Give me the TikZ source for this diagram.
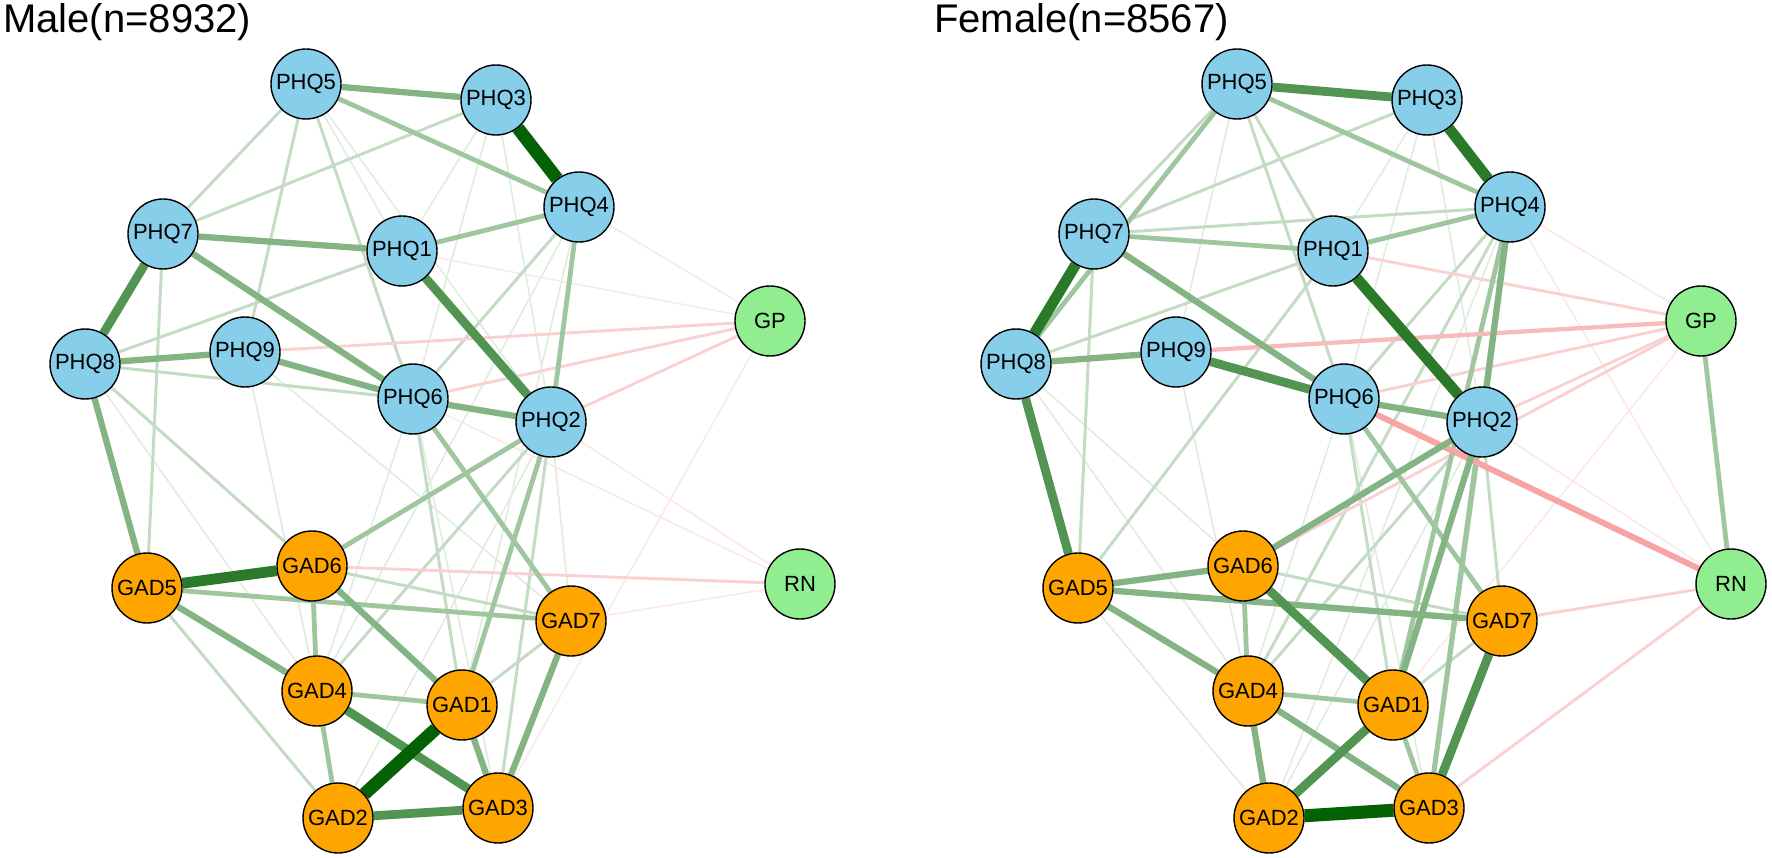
\documentclass[tikz,border=0pt]{standalone}
\usepackage{fontspec}
\setmainfont{Liberation Sans}
\usetikzlibrary{backgrounds}
\definecolor{nodeblue}{HTML}{87CEEB}
\definecolor{nodeorange}{HTML}{FFA500}
\definecolor{nodegreen}{HTML}{90EE90}
\definecolor{cg1}{RGB}{224,236,224}
\definecolor{cg2}{RGB}{196,220,196}
\definecolor{cg3}{RGB}{160,198,160}
\definecolor{cg4}{RGB}{132,180,132}
\definecolor{cg5}{RGB}{82,148,82}
\definecolor{cg6}{RGB}{42,122,42}
\definecolor{cg7}{RGB}{4,98,4}
\definecolor{cr1}{RGB}{252,232,232}
\definecolor{cr2}{RGB}{250,208,208}
\definecolor{cr3}{RGB}{248,186,186}
\definecolor{cr4}{RGB}{246,164,164}
\tikzset{
  nd/.style={circle, draw=black, line width=1.4pt, minimum size=70pt, inner sep=0pt,
             font=\fontsize{22}{22}\selectfont},
  bnode/.style={nd, fill=nodeblue},
  onode/.style={nd, fill=nodeorange},
  gnode/.style={nd, fill=nodegreen},
  G1/.style={cg1, line width=1.6pt},
  G2/.style={cg2, line width=3pt},
  G3/.style={cg3, line width=4.8pt},
  G4/.style={cg4, line width=6.3pt},
  G5/.style={cg5, line width=8.8pt},
  G6/.style={cg6, line width=10.8pt},
  G7/.style={cg7, line width=13pt},
  R1/.style={cr1, line width=1.6pt},
  R2/.style={cr2, line width=2.8pt},
  R3/.style={cr3, line width=4.3pt},
  R4/.style={cr4, line width=6pt},
  ttl/.style={anchor=base west, inner sep=0pt, font=\fontsize{40}{40}\selectfont}
}
\newcommand\mknodes[1]{%
  \node[bnode] (#1PHQ5) at (306,84) {PHQ5};
  \node[bnode] (#1PHQ3) at (496,100) {PHQ3};
  \node[bnode] (#1PHQ4) at (579,207) {PHQ4};
  \node[bnode] (#1PHQ7) at (163,234) {PHQ7};
  \node[bnode] (#1PHQ1) at (402,251) {PHQ1};
  \node[bnode] (#1PHQ8) at (85,364) {PHQ8};
  \node[bnode] (#1PHQ9) at (245,352) {PHQ9};
  \node[bnode] (#1PHQ6) at (413,399) {PHQ6};
  \node[bnode] (#1PHQ2) at (551,422) {PHQ2};
  \node[gnode] (#1GP) at (770,321) {GP};
  \node[gnode] (#1RN) at (800,584) {RN};
  \node[onode] (#1GAD5) at (147,588) {GAD5};
  \node[onode] (#1GAD6) at (312,566) {GAD6};
  \node[onode] (#1GAD7) at (571,621) {GAD7};
  \node[onode] (#1GAD4) at (317,691) {GAD4};
  \node[onode] (#1GAD1) at (462,705) {GAD1};
  \node[onode] (#1GAD2) at (338,818) {GAD2};
  \node[onode] (#1GAD3) at (498,808) {GAD3};
}
\begin{document}
\begin{tikzpicture}[x=1pt,y=-1pt]
\useasboundingbox (0,0) rectangle (1772,858);
\node[ttl] (tm) at (3,33) {Male(n=8932)};
\node[ttl] (tf) at (934,33) {Female(n=8567)};
\mknodes{m}
\begin{scope}[xshift=931pt]
\mknodes{f}
\end{scope}
\begin{pgfonlayer}{background}
% ---------- Male ----------
\foreach \a/\b in {PHQ5/PHQ1,PHQ3/PHQ1,PHQ3/PHQ6,PHQ3/PHQ2,PHQ4/GAD4,PHQ4/GAD1,PHQ2/GAD7,PHQ2/GAD2,PHQ6/GAD3,PHQ6/GAD4,PHQ9/GAD4,PHQ9/GAD7,PHQ8/GAD4,PHQ5/PHQ2}
  \draw[G1] (m\a) -- (m\b);
\foreach \a/\b in {PHQ1/GP,PHQ4/GP,PHQ6/RN,GAD3/GP,GAD7/RN,PHQ2/RN}
  \draw[R1] (m\a) -- (m\b);
\foreach \a/\b in {PHQ1/PHQ8,PHQ8/PHQ6,PHQ7/GAD5,PHQ8/GAD6,GAD5/GAD2,GAD6/GAD7,GAD7/GAD1,PHQ5/PHQ7,PHQ3/PHQ7,PHQ5/PHQ9,PHQ5/PHQ6,PHQ4/PHQ6,PHQ2/GAD4,PHQ2/GAD3,PHQ6/GAD1}
  \draw[G2] (m\a) -- (m\b);
\foreach \a/\b in {PHQ9/GP,PHQ6/GP,PHQ2/GP,GAD6/RN}
  \draw[R2] (m\a) -- (m\b);
\foreach \a/\b in {PHQ1/PHQ4,PHQ5/PHQ4,PHQ4/PHQ2,PHQ2/GAD6,PHQ6/GAD7,PHQ2/GAD1,GAD6/GAD4,GAD4/GAD2,GAD5/GAD7,GAD4/GAD1}
  \draw[G3] (m\a) -- (m\b);
\foreach \a/\b in {PHQ8/GAD5,GAD1/GAD3,GAD7/GAD3,GAD6/GAD1,GAD5/GAD4,PHQ5/PHQ3,PHQ7/PHQ1,PHQ8/PHQ9,PHQ7/PHQ6,PHQ6/PHQ2,PHQ9/PHQ6}
  \draw[G4] (m\a) -- (m\b);
\foreach \a/\b in {PHQ1/PHQ2,PHQ7/PHQ8,GAD4/GAD3,GAD2/GAD3}
  \draw[G5] (m\a) -- (m\b);
\foreach \a/\b in {GAD5/GAD6}
  \draw[G6] (m\a) -- (m\b);
\foreach \a/\b in {PHQ3/PHQ4,GAD1/GAD2}
  \draw[G7] (m\a) -- (m\b);
% ---------- Female ----------
\foreach \a/\b in {PHQ3/PHQ6,PHQ3/PHQ1,PHQ3/PHQ2,PHQ4/GAD2,PHQ2/GAD2,PHQ6/GAD3,PHQ6/GAD4,GAD5/GAD2,PHQ8/GAD4,PHQ9/GAD4,PHQ8/GAD6,PHQ5/PHQ9}
  \draw[G1] (f\a) -- (f\b);
\foreach \a/\b in {PHQ4/GP,PHQ4/RN,PHQ2/RN,GP/GAD1}
  \draw[R1] (f\a) -- (f\b);
\foreach \a/\b in {PHQ5/PHQ7,PHQ5/PHQ1,PHQ5/PHQ6,PHQ3/PHQ7,PHQ7/PHQ4,PHQ1/PHQ8,PHQ7/GAD5,PHQ1/GAD5,PHQ4/GAD4,PHQ4/PHQ6,PHQ2/GAD4,PHQ2/GAD7,PHQ6/GAD1,GAD6/GAD7,GAD7/GAD1}
  \draw[G2] (f\a) -- (f\b);
\foreach \a/\b in {PHQ1/GP,PHQ6/GP,PHQ2/GP,GAD3/RN,GAD7/RN,GP/GAD6}
  \draw[R2] (f\a) -- (f\b);
\foreach \a/\b in {PHQ2/GAD3,PHQ5/PHQ4,PHQ5/PHQ8,PHQ7/PHQ1,PHQ1/PHQ4,GP/RN,PHQ6/GAD7,GAD6/GAD4,GAD1/GAD3,GAD4/GAD1,PHQ4/GAD1,PHQ4/GAD3}
  \draw[G3] (f\a) -- (f\b);
\foreach \a/\b in {PHQ9/GP}
  \draw[R3] (f\a) -- (f\b);
\foreach \a/\b in {PHQ6/RN}
  \draw[R4] (f\a) -- (f\b);
\foreach \a/\b in {GAD4/GAD3,GAD5/GAD6,GAD5/GAD7,GAD5/GAD4,GAD4/GAD2,PHQ8/PHQ9,PHQ6/PHQ2,PHQ7/PHQ6,PHQ4/PHQ2,PHQ2/GAD6,PHQ2/GAD1}
  \draw[G4] (f\a) -- (f\b);
\foreach \a/\b in {PHQ5/PHQ3,PHQ8/GAD5,GAD6/GAD1,GAD1/GAD2,GAD7/GAD3,PHQ9/PHQ6}
  \draw[G5] (f\a) -- (f\b);
\foreach \a/\b in {PHQ1/PHQ2,PHQ7/PHQ8,PHQ3/PHQ4}
  \draw[G6] (f\a) -- (f\b);
\foreach \a/\b in {GAD2/GAD3}
  \draw[G7] (f\a) -- (f\b);
\end{pgfonlayer}
\end{tikzpicture}
\end{document}
